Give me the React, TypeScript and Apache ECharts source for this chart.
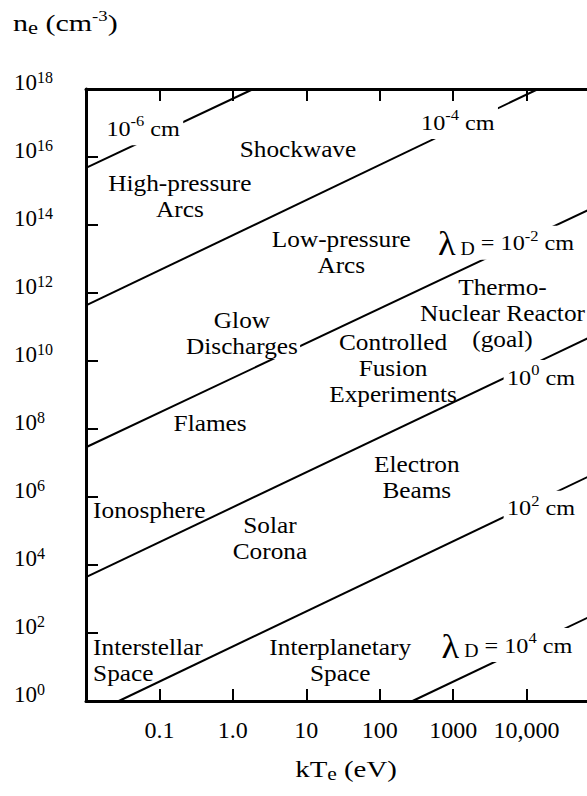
import React, { useEffect, useRef } from "react";
import * as echarts from "echarts";

const FONT = "'Liberation Serif', 'Times New Roman', serif";

// Axis ranges: electron temperature kT_e (eV) and electron density n_e (cm^-3)
const tempRange = [0.01, 1e5];
const densityRange = [1, 1e18];

// Tick labels along the temperature axis, keyed by decade exponent
const xTickExponents = [-1, 0, 1, 2, 3, 4];
const xTickLabels = ["0.1", "1.0", "10", "100", "1000", "10,000"];

// Debye-length contours: exponent of λ_D (cm) and end points [kT_e, n_e]
const debyeExponents = [-6, -4, -2, 0, 2, 4];
const debyeStart: [number, number][] = [
  [0.01, 4.8e15],
  [0.01, 4.3e11],
  [0.01, 2.9e7],
  [0.01, 4.4e3],
  [0.028, 1],
  [280, 1],
];
const debyeEnd: [number, number][] = [
  [1.9, 1e18],
  [1.44e4, 1e18],
  [1e5, 4e14],
  [1e5, 6.9e10],
  [1e5, 5.8e6],
  [1e5, 420],
];
// where each contour's λ_D label sits, and whether it is written as "λ_D = ..."
const debyeLabelAt: [number, number][] = [
  [0.06, 7e16],
  [1160, 1.07e17],
  [5250, 3e13],
  [15700, 3.4e9],
  [15700, 4.8e5],
  [5400, 44],
];
const debyeLabelFull = [false, false, true, false, false, true];

// Plasma regimes and where their names sit in the (kT_e, n_e) plane
const regionNames = [
  "Shockwave",
  "High-pressure\nArcs",
  "Low-pressure\nArcs",
  "Thermo-\nNuclear Reactor\n(goal)",
  "Glow\nDischarges",
  "Controlled\nFusion\nExperiments",
  "Flames",
  "Electron\nBeams",
  "Ionosphere",
  "Solar\nCorona",
  "Interstellar\nSpace",
  "Interplanetary\nSpace",
];
const regionAt: [number, number][] = [
  [7.7, 1.7e16],
  [0.19, 7e14],
  [30, 1.6e13],
  [4700, 2.6e11],
  [1.33, 6.7e10],
  [152, 6.2e9],
  [0.49, 1.5e8],
  [320, 3.9e6],
  [0.0125, 4.1e5],
  [3.2, 6.2e4],
  [0.0125, 16],
  [29, 16],
];
const regionAlign = [
  "center", "center", "center", "center", "center", "center",
  "center", "center", "left", "center", "left", "center",
];
const regionMasked = [false, false, false, false, true, false, false, false, false, false, false, false];

const richStyles = {
  t: { fontFamily: FONT, fontSize: 22, lineHeight: 30, color: "#000" },
  b: { fontFamily: FONT, fontSize: 24, lineHeight: 28, color: "#000" },
  sup: { fontFamily: FONT, fontSize: 15, lineHeight: 20, verticalAlign: "top", color: "#000" },
  sub: { fontFamily: FONT, fontSize: 18, lineHeight: 18, verticalAlign: "bottom", color: "#000" },
  lam: { fontFamily: FONT, fontSize: 33, lineHeight: 20, verticalAlign: "top", color: "#000" },
};

const axisLine = { show: true, onZero: false, lineStyle: { color: "#000", width: 3 } };
const axisTick = { show: true, inside: true, length: 12, lineStyle: { color: "#000", width: 2 } };

export default function App() {
  const ref = useRef<HTMLDivElement>(null);

  useEffect(() => {
    const el = ref.current;
    if (!el) return;
    const chart = echarts.init(el, null, { renderer: "svg" });

    const xAxisBase = {
      type: "log",
      logBase: 10,
      min: tempRange[0],
      max: tempRange[1],
      splitNumber: 7,
      axisLine,
      axisTick,
      splitLine: { show: false },
      minorTick: { show: false },
    };
    const yAxisBase = {
      type: "log",
      logBase: 100,
      min: densityRange[0],
      max: densityRange[1],
      splitNumber: 9,
      axisLine,
      axisTick,
      splitLine: { show: false },
      minorTick: { show: false },
    };

    chart.setOption({
      animation: false,
      backgroundColor: "#fff",
      grid: { left: 86, top: 89, width: 514, height: 612, containLabel: false, outerBoundsMode: "none" },
      xAxis: [
        {
          ...xAxisBase,
          position: "bottom",
          axisLabel: {
            show: true,
            margin: 16,
            fontFamily: FONT,
            fontSize: 24,
            lineHeight: 26,
            color: "#000",
            formatter: (v: number) => {
              const i = xTickExponents.indexOf(Math.round(Math.log10(v)));
              return i >= 0 ? xTickLabels[i] : "";
            },
          },
        },
        { ...xAxisBase, position: "top", axisLabel: { show: false } },
      ],
      yAxis: [
        {
          ...yAxisBase,
          position: "left",
          axisLabel: {
            show: true,
            align: "left",
            margin: 72,
            padding: [0, 0, 14, 0],
            formatter: (v: number) => `{b|10}{sup|${Math.round(Math.log10(v))}}`,
            rich: {
              b: { fontFamily: FONT, fontSize: 23, lineHeight: 26, color: "#000" },
              sup: { fontFamily: FONT, fontSize: 16, lineHeight: 16, verticalAlign: "top", color: "#000" },
            },
          },
        },
        { ...yAxisBase, position: "right", axisLabel: { show: false } },
      ],
      series: debyeExponents.map((e, i) => ({
        name: `λD = 1e${e} cm`,
        type: "line",
        xAxisIndex: 0,
        yAxisIndex: 0,
        data: [debyeStart[i], debyeEnd[i]],
        symbol: "none",
        silent: true,
        clip: true,
        lineStyle: { color: "#000", width: 2 },
        z: 2,
      })),
    });

    const toPx = (p: [number, number]) => chart.convertToPixel({ gridIndex: 0 }, p) as number[];

    const elements: any[] = [];

    regionNames.forEach((name, i) => {
      const [px, py] = toPx(regionAt[i]);
      elements.push({
        type: "text",
        x: px,
        y: py,
        scaleX: 1.1,
        z: 10,
        silent: true,
        style: {
          text: name,
          fontFamily: FONT,
          fontSize: 23,
          lineHeight: 26,
          fill: "#000",
          align: regionAlign[i],
          verticalAlign: "middle",
          backgroundColor: regionMasked[i] ? "#fff" : undefined,
          padding: regionMasked[i] ? [0, 2] : 0,
        },
      });
    });

    debyeExponents.forEach((e, i) => {
      const [px, py] = toPx(debyeLabelAt[i]);
      const head = debyeLabelFull[i] ? "{lam|λ}{sub| D}{t| = 10}" : "{t|10}";
      elements.push({
        type: "text",
        x: px,
        y: py,
        scaleX: 1.1,
        z: 11,
        silent: true,
        style: {
          text: `${head}{sup|${e}}{t| cm}`,
          rich: richStyles,
          align: "center",
          verticalAlign: "middle",
          backgroundColor: "#fff",
          padding: [2, 3],
        },
      });
    });

    // axis titles
    elements.push({
      type: "text",
      x: 13,
      y: 23,
      scaleX: 1.25,
      z: 10,
      silent: true,
      style: {
        text: "{b|n}{sub|e}{b| (cm}{sup|-3}{b|)}",
        rich: richStyles,
        align: "left",
        verticalAlign: "middle",
      },
    });
    elements.push({
      type: "text",
      x: 346,
      y: 769,
      scaleX: 1.2,
      z: 10,
      silent: true,
      style: {
        text: "{b|kT}{sub|e}{b| (eV)}",
        rich: richStyles,
        align: "center",
        verticalAlign: "middle",
      },
    });

    chart.setOption({ graphic: { elements } });

    return () => chart.dispose();
  }, []);

  return (
    <div
      style={{
        position: "fixed",
        left: 0,
        top: 0,
        width: "100vw",
        height: "100vh",
        overflow: "hidden",
        background: "#fff",
      }}
    >
      <div ref={ref} style={{ width: 640, height: 796 }} />
    </div>
  );
}
